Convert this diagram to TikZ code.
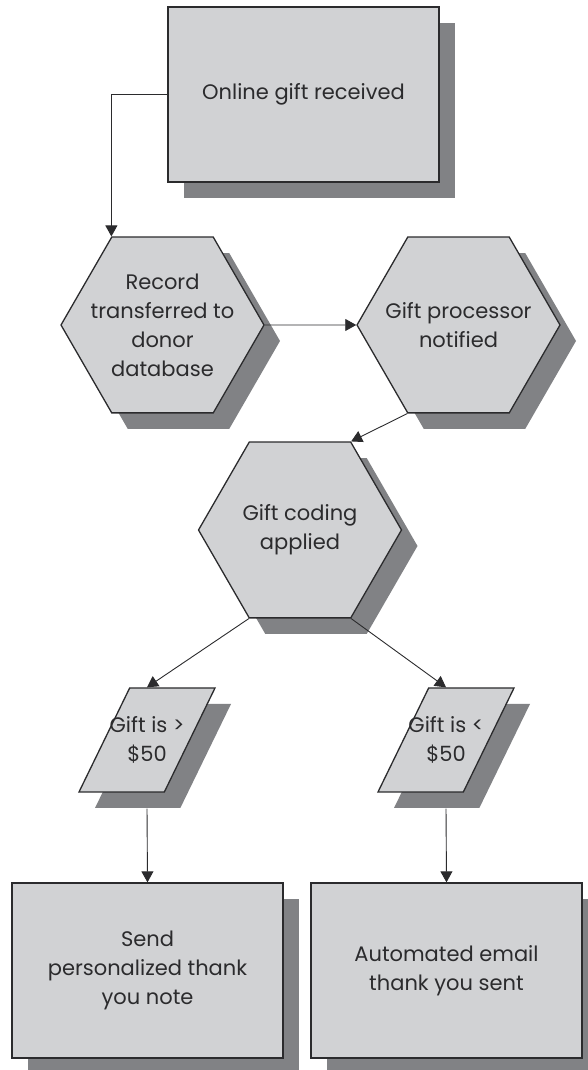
\documentclass[tikz,border=0pt]{standalone}
\usepackage{fontspec}
\setmainfont{Poppins}
\usepackage{tikz}
\usetikzlibrary{arrows.meta,shapes.geometric,shadows}

\definecolor{boxfill}{HTML}{D1D2D4}
\definecolor{boxshade}{HTML}{818285}
\definecolor{ink}{HTML}{2B2B2D}

\begin{document}
\begin{tikzpicture}[x=1pt,y=1pt,
    shadowed/.style={draw=ink,line width=1.3pt,fill=boxfill,text=ink,align=center,
      font=\fontsize{21}{29}\selectfont,
      general shadow={fill=boxshade,shadow xshift=16pt,shadow yshift=-16pt}},
    taskbox/.style={shadowed,rectangle,minimum width=271pt,minimum height=175pt},
    % negative sep so the text does not blow the hexagon up
    stagehex/.style={shadowed,regular polygon,regular polygon sides=6,minimum size=203pt,inner sep=-24pt},
    testbox/.style={shadowed,trapezium,trapezium left angle=64,trapezium right angle=116,
      trapezium stretches body=true,minimum width=136pt,minimum height=104pt,
      inner xsep=-22pt,inner ysep=28.5pt},
    flow/.style={draw=ink,line width=0.9pt,-{Triangle[length=11pt,width=12pt]}}]
    \useasboundingbox (0,0) rectangle (587,1070);
    % gift comes in
    \node[taskbox] (online) at (303.5,975.5) {Online gift received};
    % record and processor
    \node[stagehex] (record) at (162.5,745) {Record\\transferred to\\donor\\database};
    \node[stagehex] (notified) at (458.5,745) {Gift processor\\notified};
    \node[stagehex] (coding) at (300,540) {Gift coding\\applied};
    % the two amounts
    \node[testbox] (over) at (147,330) {Gift is >\\\$50};
    \node[testbox] (under) at (446,330) {Gift is <\\\$50};
    % thank-you steps
    \node[taskbox] (note) at (147.5,99.5) {Send\\personalized thank\\you note};
    \node[taskbox] (email) at (446.5,99.5) {Automated email\\thank you sent};

    % connectors
    \draw[flow] (online.west) -| (record.120);
    \draw[flow] (record.east) -- (notified.west);
    \draw[flow] (notified.240) -- (coding.60);
    \draw[flow] (coding.240) -- (over.north);
    \draw[flow] (coding.300) -- (under.north);
    \draw[flow] ([yshift=-16pt]over.south) -- (note.north);
    \draw[flow] ([yshift=-16pt]under.south) -- (email.north);
  \end{tikzpicture}
\end{document}
